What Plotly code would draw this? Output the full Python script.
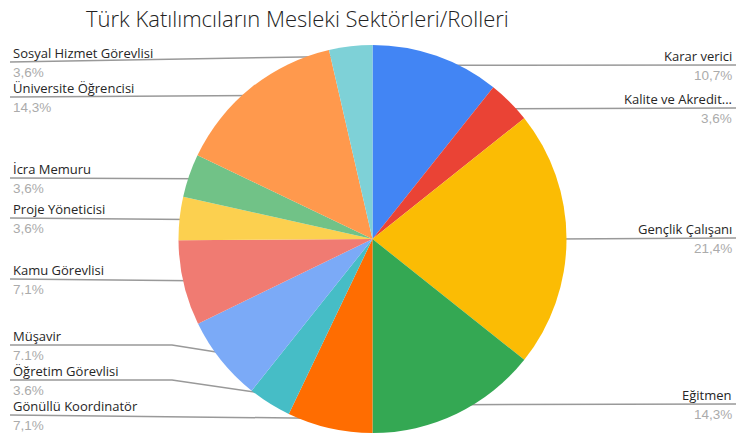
import math
import plotly.graph_objects as go

# Occupation shares of Turkish participants (percent)
categories = [
    "Karar verici", "Kalite ve Akredit...", "Gençlik Çalışanı", "Eğitmen",
    "Gönüllü Koordinatör", "Öğretim Görevlisi", "Müşavir", "Kamu Görevlisi",
    "Proje Yöneticisi", "İcra Memuru", "Üniversite Öğrencisi", "Sosyal Hizmet Görevlisi",
]
values = [10.7, 3.6, 21.4, 14.3, 7.1, 3.6, 7.1, 7.1, 3.6, 3.6, 14.3, 3.6]
pct_labels = ["10,7%", "3,6%", "21,4%", "14,3%", "7,1%", "3.6%", "7.1%", "7,1%",
              "3,6%", "3,6%", "14,3%", "3,6%"]
colors = ["#4285F4", "#EA4335", "#FBBC04", "#34A853", "#FF6D01", "#46BDC6",
          "#7BAAF7", "#F07B72", "#FCD04F", "#71C287", "#FF994D", "#7ED1D7"]

# label layout: vertical position of each leader line, optional elbow x
label_y = [65, 108, 238, 404, 415, 380, 345, 279, 218, 178, 97, 62]
elbow_x = [None, None, None, None, None, 172, 172, None, None, None, None, None]

W, H = 736, 436
cx, cy, r = 372.5, 239.0, 194.0
dot_r = 184.0

fig = go.Figure()
fig.add_trace(go.Pie(
    values=values, labels=categories, sort=False, direction="clockwise",
    rotation=0, marker=dict(colors=colors, line=dict(width=0)),
    textinfo="none", hoverinfo="label+percent", showlegend=False,
    domain=dict(x=[(cx - r) / W, (cx + r) / W], y=[1 - (cy + r) / H, 1 - (cy - r) / H]),
))

total = sum(values)
cum = 0.0
annotations = []
dots_x, dots_y = [], []
for i, v in enumerate(values):
    mid = (cum + v / 2) / total * 2 * math.pi
    cum += v
    dx = cx + dot_r * math.sin(mid)
    dy = cy - dot_r * math.cos(mid)
    dots_x.append(dx)
    dots_y.append(dy)
    ly = label_y[i]
    right = dx > cx
    if right:
        xs, ys = [dx, W], [dy, ly]
        tx, xanchor = 734, "right"
    else:
        if elbow_x[i] is not None:
            xs, ys = [10, elbow_x[i], dx], [ly, ly, dy]
        else:
            xs, ys = [10, dx], [ly, dy]
        tx, xanchor = 11, "left"
    fig.add_trace(go.Scatter(x=xs, y=ys, mode="lines", hoverinfo="skip",
                             line=dict(color="#999999", width=1.5), showlegend=False))
    annotations.append(dict(x=tx, y=ly + 2, xref="x", yref="y", text=categories[i],
                            showarrow=False, xanchor=xanchor, yanchor="bottom",
                            font=dict(family="Open Sans", size=13, color="#262626")))
    annotations.append(dict(x=tx, y=ly + 1, xref="x", yref="y", text=pct_labels[i],
                            showarrow=False, xanchor=xanchor, yanchor="top",
                            font=dict(family="Liberation Sans, Arial", size=13.5, color="#ababab")))

fig.add_trace(go.Scatter(x=dots_x, y=dots_y, mode="markers", hoverinfo="skip",
                         marker=dict(color="#999999", size=5.5), showlegend=False))

annotations.append(dict(x=84, y=18, xref="x", yref="y", xanchor="left", yanchor="middle",
                        text="Türk Katılımcıların Mesleki Sektörleri/Rolleri", showarrow=False,
                        font=dict(family="Open Sans", size=22, color="#222222", weight=300)))

fig.update_layout(
    width=W, height=H, margin=dict(l=0, r=0, t=0, b=0),
    paper_bgcolor="white", plot_bgcolor="rgba(0,0,0,0)",
    xaxis=dict(range=[0, W], visible=False, fixedrange=True, domain=[0, 1]),
    yaxis=dict(range=[H, 0], visible=False, fixedrange=True, domain=[0, 1]),
    annotations=annotations,
)

fig.write_html("out.html", config={"displayModeBar": False})
